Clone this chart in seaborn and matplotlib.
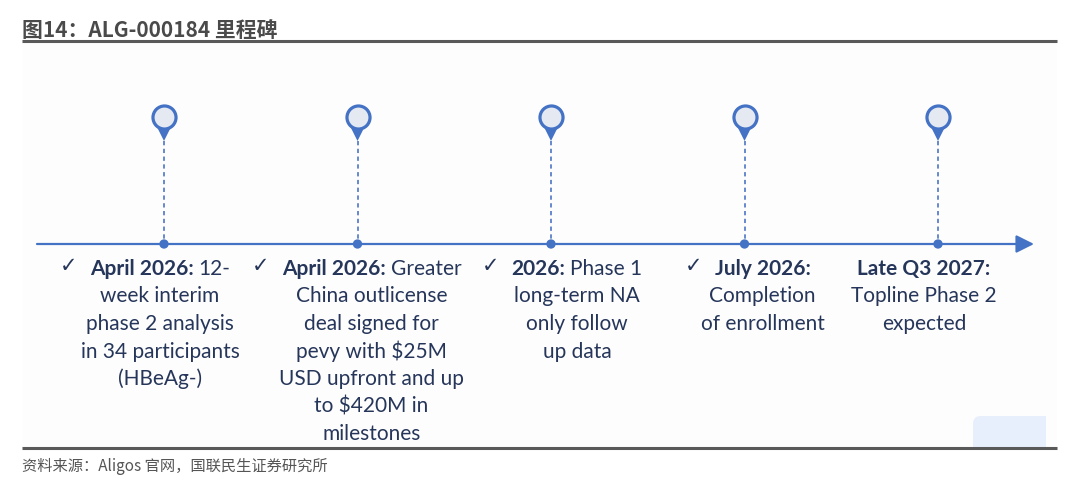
import numpy as np
import pandas as pd
import matplotlib
matplotlib.use("Agg")
import matplotlib.pyplot as plt
import seaborn as sns
from matplotlib.patches import FancyBboxPatch, Rectangle

# ---------------- data ----------------
title = "图14：ALG-000184 里程碑"
source = "资料来源：Aligos 官网，国联民生证券研究所"
milestone_dates = ["April 2026:", "April 2026:", "2026:", "July 2026:", "Late Q3 2027:"]
first_line_rest = ["12-", "Greater", "Phase 1", "", ""]
description_lines = [
    ["week interim", "phase 2 analysis", "in 34 participants", "(HBeAg-)"],
    ["China outlicense", "deal signed for", "pevy with $25M", "USD upfront and up",
     "to $420M in", "milestones"],
    ["long-term NA", "only follow", "up data"],
    ["Completion", "of enrollment"],
    ["Topline Phase 2", "expected"],
]
completed = [True, True, True, True, False]

# ---------------- layout / style ----------------
W, H = 1080, 496
X0, STEP = 164, 193.5            # pixel position of first milestone, spacing
text_offset_px = [-4, 14, 26, 18, -14]
AXIS_Y = 244
PIN_Y = 117
BLUE = "#4472c4"
DASH_BLUE = "#6688cc"
PIN_FILL = "#e4e9f2"
TXT = "#26365a"
GREY = "#595959"
FS = 15

sns.set_theme(style="white")
plt.rcParams['font.family'] = ['Lato', 'DejaVu Sans']

fig = plt.figure(figsize=(W / 100, H / 100), dpi=100)
ax = fig.add_axes([0, 0, 1, 1])
ax.set_xlim(-X0 / STEP, (W - X0) / STEP)
ax.set_ylim(H, 0)
ax.axis('off')


def px(x):
    return (x - X0) / STEP


n = len(milestone_dates)
df = pd.DataFrame({"idx": np.arange(n), "date": milestone_dates,
                   "axis_y": [AXIS_Y] * n, "pin_y": [PIN_Y] * n})

# panel background
ax.add_patch(Rectangle((px(22), 42), px(1057) - px(22), 406,
                       facecolor="#fdfdfd", edgecolor="none", zorder=0))
# light blue tab (rounded top-left corner)
ax.add_patch(FancyBboxPatch((px(973), 416), px(1046) - px(973), 32,
                            boxstyle="round,pad=0,rounding_size=0.04",
                            mutation_aspect=STEP,
                            facecolor="#e8effc", edgecolor="none", zorder=1))
ax.add_patch(Rectangle((px(990), 416), px(1046) - px(990), 32,
                       facecolor="#e8effc", edgecolor="none", zorder=1))
ax.add_patch(Rectangle((px(973), 432), px(1046) - px(973), 16,
                       facecolor="#e8effc", edgecolor="none", zorder=1))

# header / footer rules
ax.plot([px(22), px(1057)], [41, 41], color=GREY, lw=2.2, solid_capstyle='butt', zorder=2)
ax.plot([px(22), px(1057)], [448, 448], color=GREY, lw=2.2, solid_capstyle='butt', zorder=2)

# timeline arrow
ax.annotate("", xy=(px(1034), AXIS_Y), xytext=(px(37), AXIS_Y),
            arrowprops=dict(arrowstyle="-|>,head_length=0.9,head_width=0.45",
                            color=BLUE, lw=1.6, shrinkA=0, shrinkB=0), zorder=3)

# dashed stems
ax.vlines(df["idx"], PIN_Y + 24, AXIS_Y, colors=DASH_BLUE, lw=1.4,
          linestyles=(0, (2.2, 1.8)), zorder=3)

# dots on axis
sns.scatterplot(data=df, x="idx", y="axis_y", ax=ax, s=45, color=BLUE,
                edgecolor="none", legend=False, zorder=5)

# pins: tip + head
ax.scatter(df["idx"], df["pin_y"] + 14, marker="v", s=14.4 ** 2, color=BLUE,
           edgecolors="none", zorder=6)
sns.scatterplot(data=df, x="idx", y="pin_y", ax=ax, s=16.6 ** 2, color=PIN_FILL,
                edgecolor=BLUE, linewidth=2.3, legend=False, zorder=7)

# ---------------- texts ----------------
r = fig.canvas.get_renderer()
BASE = 275
LSP = 27.5
for i in range(n):
    cx = X0 + i * STEP + text_offset_px[i]
    tb = ax.text(0, BASE, milestone_dates[i], fontsize=FS, weight='bold',
                 color=TXT, ha='left', va='baseline')
    wb = tb.get_window_extent(r).width
    wr = 0.0
    gap = 0.0
    tr = None
    if first_line_rest[i]:
        tr = ax.text(0, BASE, first_line_rest[i], fontsize=FS, color=TXT,
                     ha='left', va='baseline')
        wr = tr.get_window_extent(r).width
        gap = 5
    left = cx - (wb + gap + wr) / 2
    tb.set_x(px(left))
    if tr is not None:
        tr.set_x(px(left + wb + gap))
    if completed[i]:
        ax.text(px(left - 12), BASE - 3, "✓", fontsize=FS, color=TXT,
                ha='right', va='baseline', family=['DejaVu Sans'])
    for k, line in enumerate(description_lines[i]):
        ax.text(px(cx), BASE + (k + 1) * LSP, line, fontsize=FS, color=TXT,
                ha='center', va='baseline')

cjk = ['Noto Sans CJK SC', 'DejaVu Sans']
ax.text(px(22), 37, title, fontsize=15, weight='bold', color="#4a4a4a",
        ha='left', va='baseline', family=cjk)
ax.text(px(22), 471, source, fontsize=11, color="#555555",
        ha='left', va='baseline', family=cjk)

fig.savefig("out.png", dpi=100, facecolor="white")
